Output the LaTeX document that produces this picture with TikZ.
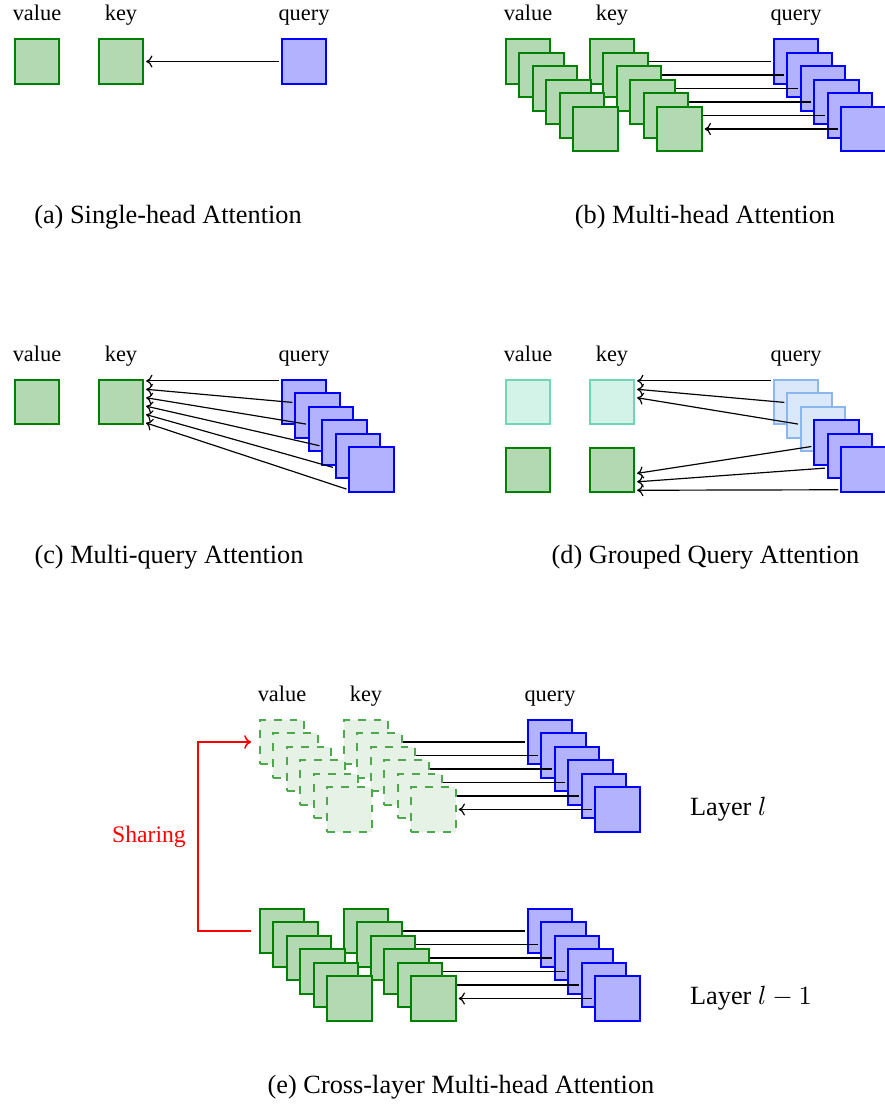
\documentclass[tikz,border=0pt]{standalone}
\usepackage{fontspec}
\setmainfont{Liberation Serif}
\usetikzlibrary{arrows.meta,positioning,calc}
\definecolor{kvline}{RGB}{0,128,0}
\definecolor{mintline}{RGB}{112,214,180}
\definecolor{mintfill}{RGB}{211,243,233}
\definecolor{paleline}{RGB}{140,182,240}
\definecolor{palefill}{RGB}{219,232,250}
\definecolor{dashline}{RGB}{78,168,78}
\definecolor{dashfill}{RGB}{231,242,231}
\tikzset{kv/.style={draw=kvline,fill=kvline!30,line width=0.75pt,minimum size=16.75pt,inner sep=0pt},qu/.style={kv,draw=blue,fill=blue!30},kvpale/.style={kv,draw=mintline,fill=mintfill},kvdash/.style={kv,draw=dashline,fill=dashfill,dashed},link/.style={-{To[length=2.4pt,width=4.6pt]},line width=0.45pt,shorten >=0.8pt,shorten <=0.8pt},share/.style={-{To[length=2.6pt,width=5.2pt]},draw=red,line width=0.6pt},lab/.style={anchor=base,font=\fontsize{8.5}{10}\selectfont},capt/.style={anchor=base,font=\fontsize{10}{12}\selectfont}}

\begin{document}
\begin{tikzpicture}[x=0.38pt,y=-0.38pt]
\useasboundingbox (0,0) rectangle (884,1109);
% (a) single head
\node[kv] (a-v) at (37,61.5) {};
\node[kv] (a-k) at (121,61.5) {};
\node[qu] (a-q) at (304,61.5) {};
\draw[link] (a-q)--(a-k);
\node[lab] at ($(a-v.center)+(0,-41)$) {value};\node[lab] at ($(a-k.center)+(0,-41)$) {key};\node[lab] at ($(a-q.center)+(0,-41)$) {query};
\node[capt] (cap-a) at (168,223) {(a) Single-head Attention};
% (b) multi head
\foreach \i [evaluate=\i as \d using 13.5*(\i-1)] in {1,...,6}{
  \node[kv] (b-v\i) at ({528+\d},{61.5+\d}) {};
  \node[kv] (b-k\i) at ({612+\d},{61.5+\d}) {};
  \node[qu] (b-q\i) at ({796+\d},{61.5+\d}) {};
  \draw[link] (b-q\i.west)--(b-k\i.east);
}
\node[lab] at ($(b-v1.center)+(0,-41)$) {value};\node[lab] at ($(b-k1.center)+(0,-41)$) {key};\node[lab] at ($(b-q1.center)+(0,-41)$) {query};
\node[capt] (cap-b) at (705,223) {(b) Multi-head Attention};
% (c) multi query
\node[kv] (c-v) at (37,402) {};
\node[kv] (c-k) at (121,402) {};
\foreach \i [evaluate=\i as \d using 13.5*(\i-1),evaluate=\i as \f using 0.04+0.18*(\i-1)] in {1,...,6}{
  \node[qu] (c-q\i) at ({304+\d},{402+\d}) {};
  \draw[link] ($(c-q\i.north west)!\f!(c-q\i.south west)$)--($(c-k.north east)!\f!(c-k.south east)$);
}
\node[lab] at ($(c-v.center)+(0,-41)$) {value};\node[lab] at ($(c-k.center)+(0,-41)$) {key};\node[lab] at ($(c-q1.center)+(0,-41)$) {query};
\node[capt] (cap-c) at (169,563) {(c) Multi-query Attention};
% (d) grouped query
\node[kvpale] (d-v1) at (528,402) {};\node[kvpale] (d-k1) at (612,402) {};
\node[kv] (d-v2) at (528,470) {};\node[kv] (d-k2) at (612,470) {};
\foreach \i/\dc/\fc/\g [evaluate=\i as \d using 13.5*(\i-1),evaluate=\i as \f using 0.04+0.18*(\i-1)] in {1/paleline/palefill/1,2/paleline/palefill/1,3/paleline/palefill/1,4/blue/blue!30/2,5/blue/blue!30/2,6/blue/blue!30/2}{
  \node[qu,draw=\dc,fill=\fc] (d-q\i) at ({796+\d},{402+\d}) {};
  \draw[link] ($(d-q\i.north west)!\f!(d-q\i.south west)$)--($(d-k\g.north east)!\f!(d-k\g.south east)$);
}
\node[lab] at ($(d-v1.center)+(0,-41)$) {value};\node[lab] at ($(d-k1.center)+(0,-41)$) {key};\node[lab] at ($(d-q1.center)+(0,-41)$) {query};
\node[capt] (cap-d) at (705.5,563) {(d) Grouped Query Attention};
% (e) cross layer
\foreach \i [evaluate=\i as \d using 13.5*(\i-1)] in {1,...,6}{
  \node[kvdash] (e-uv\i) at ({282+\d},{742+\d}) {};
  \node[kvdash] (e-uk\i) at ({366+\d},{742+\d}) {};
  \node[qu] (e-uq\i) at ({550+\d},{742+\d}) {};
  \draw[link] (e-uq\i.west)--(e-uk\i.east);
  \node[kv] (e-lv\i) at ({282+\d},{931+\d}) {};
  \node[kv] (e-lk\i) at ({366+\d},{931+\d}) {};
  \node[qu] (e-lq\i) at ({550+\d},{931+\d}) {};
  \draw[link] (e-lq\i.west)--(e-lk\i.east);
}
\node[lab] at ($(e-uv1.center)+(0,-41)$) {value};\node[lab] at ($(e-uk1.center)+(0,-41)$) {key};\node[lab] at ($(e-uq1.center)+(0,-41)$) {query};
\node[right=15.3pt of e-uq6,font=\fontsize{10}{12}\selectfont] (lay-u) {Layer $l$};
\node[right=15.3pt of e-lq6,font=\fontsize{10}{12}\selectfont] (lay-l) {Layer $l-1$};
\draw[share,shorten <=3pt,shorten >=3pt] (e-lv1.west)-- ++(-61,0) |- node[pos=0.25,left=1pt,text=red,font=\fontsize{9}{11}\selectfont]{Sharing} (e-uv1.west);
\node[capt] (cap-e) at (461,1093) {(e) Cross-layer Multi-head Attention};
\end{tikzpicture}
\end{document}
